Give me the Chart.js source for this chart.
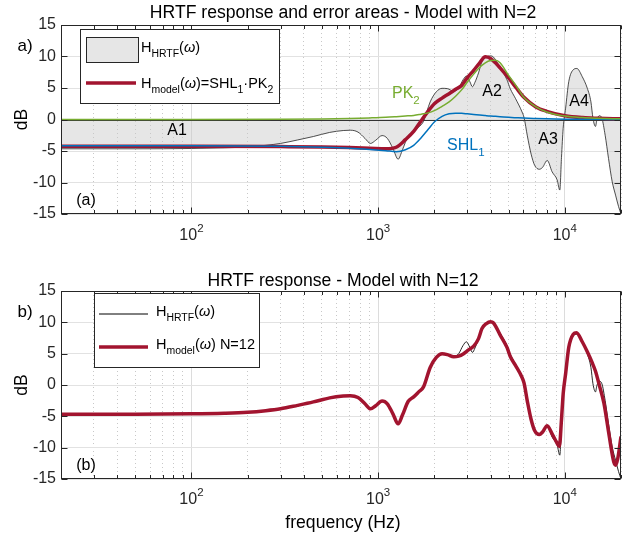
<!DOCTYPE html>
<html>
<head>
<meta charset="utf-8">
<script src="https://cdn.jsdelivr.net/npm/chart.js@4"></script>
<style>
  html, body { margin: 0; padding: 0; background: #fff; }
  #wrap { position: relative; width: 631px; height: 533px; }
  #wrap canvas { position: absolute; left: 0; top: 0; }
</style>
</head>
<body>
<div id="wrap">
  <canvas id="top" width="631" height="533"></canvas>
  <canvas id="bottom" width="631" height="533"></canvas>
</div>
<script>
const hrtfFreq = [20, 50, 100, 150, 200, 250, 300, 370, 450, 550, 650, 710, 780, 850, 910, 970, 1050, 1120, 1200, 1280, 1350, 1450, 1550, 1650, 1750, 1900, 2050, 2200, 2350, 2540, 2700, 2850, 2970, 3100, 3200, 3300, 3450, 3600, 3800, 4000, 4150, 4450, 4900, 5100, 5450, 5900, 6050, 6300, 6600, 6900, 7300, 7600, 8050, 8550, 9100, 9400, 9600, 9800, 10100, 10500, 11100, 11600, 12400, 13200, 13800, 14150, 14600, 14850, 15300, 15800, 16450, 17150, 17950, 18700, 19400, 20000];
const hrtfDb = [-4.65, -4.65, -4.6, -4.5, -4.35, -4.1, -3.8, -3.25, -2.7, -2.05, -1.75, -1.7, -2.0, -3.0, -3.8, -3.3, -2.55, -3.0, -4.6, -6.3, -4.8, -2.6, -1.9, -1.2, -0.3, 2.8, 4.4, 4.95, 4.9, 4.5, 5.0, 6.3, 6.9, 6.0, 5.2, 5.9, 7.4, 9.2, 9.9, 10.1, 9.9, 8.5, 6.3, 4.9, 3.3, 1.2, 0.3, -2.6, -5.5, -7.3, -7.9, -7.6, -6.5, -8.3, -9.6, -11.2, -6.0, -1.4, 1.8, 6.0, 7.9, 8.1, 6.8, 4.95, 2.8, 0.2, -1.1, -0.1, 0.6, 0.2, -2.5, -6.2, -9.9, -12.0, -13.8, -15];

// N=2 model and its two sections
const modelFreq = [20, 100, 300, 500, 700, 900, 1100, 1250, 1400, 1550, 1700, 1850, 2000, 2200, 2400, 2600, 2800, 3000, 3250, 3500, 3750, 4000, 4250, 4500, 5000, 5500, 6000, 7000, 8000, 10000, 12500, 15000, 20000];
const model2Db = [-4.25, -4.25, -4.3, -4.35, -4.45, -4.55, -4.65, -4.4, -3.2, -1.9, -0.2, 1.3, 2.5, 3.4, 4.1, 4.8, 5.4, 6.6, 7.8, 9.0, 9.95, 9.7, 9.0, 8.2, 6.6, 5.0, 3.6, 2.0, 1.3, 0.6, 0.3, 0.2, 0.1];
const shl1Db = [-4.15, -4.15, -4.25, -4.4, -4.55, -4.75, -4.95, -5.1, -4.8, -4.1, -2.9, -1.6, -0.4, 0.5, 0.9, 1.0, 0.98, 0.9, 0.8, 0.7, 0.62, 0.55, 0.5, 0.45, 0.35, 0.28, 0.22, 0.15, 0.1, 0.05, 0.03, 0.02, 0.01];
const pk2Db = [0, 0, 0.02, 0.08, 0.15, 0.25, 0.35, 0.45, 0.55, 0.65, 0.85, 1.05, 1.4, 2.1, 2.8, 3.7, 4.7, 5.9, 7.2, 8.3, 9.0, 9.35, 9.4, 9.0, 7.0, 5.3, 3.6, 2.0, 1.2, 0.55, 0.3, 0.2, 0.1];

// N=12 model
const model12Freq = [20, 50, 100, 150, 200, 250, 300, 370, 450, 550, 650, 710, 780, 850, 910, 970, 1050, 1120, 1200, 1280, 1350, 1450, 1550, 1650, 1750, 1900, 2050, 2200, 2350, 2540, 2700, 2870, 3050, 3250, 3450, 3600, 3800, 4000, 4150, 4500, 4900, 5110, 5450, 5900, 6050, 6300, 6600, 6900, 7300, 7600, 8050, 8550, 9100, 9350, 9600, 9800, 10100, 10500, 11100, 11550, 12400, 13200, 14000, 14600, 15300, 16200, 17100, 17900, 18300, 18700, 19200, 20000];
const model12Db = [-4.65, -4.65, -4.6, -4.5, -4.35, -4.1, -3.8, -3.25, -2.7, -2.05, -1.75, -1.7, -2.0, -3.0, -3.8, -3.3, -2.55, -3.0, -4.6, -6.2, -4.8, -2.6, -1.9, -1.1, -0.3, 2.8, 4.4, 5.0, 4.85, 4.5, 4.6, 5.0, 5.6, 6.2, 7.4, 9.0, 9.8, 10.1, 9.9, 8.0, 6.0, 4.5, 3.1, 1.2, 0.3, -2.6, -5.5, -7.3, -7.9, -7.5, -6.5, -7.8, -9.3, -9.8, -5.5, -1.4, 1.8, 6.0, 8.1, 8.35, 6.9, 5.3, 3.6, 2.2, 0.0, -2.9, -7.2, -10.9, -12.3, -12.8, -11.8, -8.2];

// axes
const xGridTicks = [20, 30, 40, 50, 60, 70, 80, 90, 100, 200, 300, 400, 500, 600, 700, 800, 900, 1000, 2000, 3000, 4000, 5000, 6000, 7000, 8000, 9000, 10000, 20000];
const xLabelTicks = [100, 1000, 10000];
const xLabelExp = ['2', '3', '4'];
const yTicks = [-15, -10, -5, 0, 5, 10, 15];

const FONT = "'Liberation Sans', Arial, Helvetica, sans-serif";
const AX = '#262626';
const RED = '#A2142F', BLUE = '#0072BD', GREEN = '#77AC30';

const pts = (f, v) => f.map((x, i) => ({ x: x, y: v[i] }));

const panels = {
  top: {
    title: 'HRTF response and error areas - Model with N=2', titleY: 13,
    tag: 'a)', tagY: 46, panel: '(a)', panelY: 201, tickY: 236, baseline: true,
    notes: [
      { parts: [['A1', '']], x: 177, y: 131, color: '#000', align: 'center' },
      { parts: [['PK', ''], ['2', 'sub']], x: 392, y: 94, color: GREEN, align: 'left' },
      { parts: [['A2', '']], x: 492, y: 92, color: '#000', align: 'center' },
      { parts: [['SHL', ''], ['1', 'sub']], x: 447, y: 146, color: BLUE, align: 'left' },
      { parts: [['A3', '']], x: 548, y: 140, color: '#000', align: 'center' },
      { parts: [['A4', '']], x: 579, y: 102, color: '#000', align: 'center' }
    ]
  },
  bottom: {
    title: 'HRTF response - Model with N=12', titleY: 281,
    tag: 'b)', tagY: 312, panel: '(b)', panelY: 466, tickY: 500, xlabel: 'frequency (Hz)', xlabelY: 523,
    notes: []
  }
};

function rich(ctx, parts, x, y, size, align) {
  const fontOf = k => (k === 'it' ? 'italic ' : '') + ((k === 'sub' || k === 'sup') ? size * 0.72 : size) + 'px ' + FONT;
  let w = 0;
  parts.forEach(p => { ctx.font = fontOf(p[1]); w += ctx.measureText(p[0]).width; });
  let cx = align === 'center' ? x - w / 2 : (align === 'right' ? x - w : x);
  ctx.textAlign = 'left';
  ctx.textBaseline = 'middle';
  parts.forEach(p => {
    ctx.font = fontOf(p[1]);
    const dy = p[1] === 'sub' ? size * 0.4 : (p[1] === 'sup' ? -size * 0.42 : 0);
    ctx.fillText(p[0], cx, y + dy);
    cx += ctx.measureText(p[0]).width;
  });
}

function drawLegend(ctx, id) {
  ctx.save();
  ctx.fillStyle = '#fff';
  ctx.strokeStyle = AX;
  ctx.lineWidth = 1;
  ctx.fillStyle = '#000';
  if (id === 'top') {
    ctx.fillStyle = '#fff';
    ctx.fillRect(80, 29, 199, 74);
    ctx.strokeRect(80.5, 29.5, 199, 74);
    ctx.fillStyle = '#e6e6e6';
    ctx.fillRect(86, 37, 52, 25);
    ctx.strokeRect(86.5, 37.5, 52, 25);
    ctx.strokeStyle = RED; ctx.lineWidth = 3.5;
    ctx.beginPath(); ctx.moveTo(86, 83); ctx.lineTo(136, 83); ctx.stroke();
    ctx.fillStyle = '#000';
    rich(ctx, [['H', ''], ['HRTF', 'sub'], ['(', ''], ['ω', 'it'], [')', '']], 141, 48, 14.5, 'left');
    rich(ctx, [['H', ''], ['model', 'sub'], ['(', ''], ['ω', 'it'], [')=SHL', ''], ['1', 'sub'], ['·PK', ''], ['2', 'sub']], 141, 84, 14.5, 'left');
  } else {
    ctx.fillStyle = '#fff';
    ctx.fillRect(94, 293, 165, 74);
    ctx.strokeRect(94.5, 293.5, 165, 74);
    ctx.strokeStyle = '#000'; ctx.lineWidth = 1;
    ctx.beginPath(); ctx.moveTo(99, 314); ctx.lineTo(148, 314); ctx.stroke();
    ctx.strokeStyle = RED; ctx.lineWidth = 3.5;
    ctx.beginPath(); ctx.moveTo(99, 347); ctx.lineTo(148, 347); ctx.stroke();
    ctx.fillStyle = '#000';
    rich(ctx, [['H', ''], ['HRTF', 'sub'], ['(', ''], ['ω', 'it'], [')', '']], 156, 312, 14.5, 'left');
    rich(ctx, [['H', ''], ['model', 'sub'], ['(', ''], ['ω', 'it'], [') N=12', '']], 156, 345, 14.5, 'left');
  }
  ctx.restore();
}

const decor = {
  id: 'decor',
  afterDatasetDraw(chart, args) {
    const p = panels[chart.canvas.id];
    if (!p.baseline || args.index !== 0) return;
    const ctx = chart.ctx, a = chart.chartArea;
    const y0 = Math.round(chart.scales.y.getPixelForValue(0)) + 0.5;
    ctx.save();
    ctx.strokeStyle = '#333';
    ctx.lineWidth = 1;
    ctx.beginPath(); ctx.moveTo(a.left, y0); ctx.lineTo(a.right, y0); ctx.stroke();
    ctx.restore();
  },
  afterDatasetsDraw(chart) {
    const ctx = chart.ctx, a = chart.chartArea;
    const xs = chart.scales.x, ys = chart.scales.y;
    ctx.save();
    ctx.strokeStyle = AX;
    ctx.lineWidth = 1;
    const L = Math.round(a.left) + 0.5, R = Math.round(a.right) - 0.5;
    const T = Math.round(a.top) + 0.5, B = Math.round(a.bottom) - 0.5;
    ctx.strokeRect(L, T, R - L, B - T);
    ctx.beginPath();
    xGridTicks.forEach(v => {
      const px = Math.round(xs.getPixelForValue(v)) + 0.5;
      const len = xLabelTicks.includes(v) ? 6 : 3.5;
      ctx.moveTo(px, B); ctx.lineTo(px, B - len);
      ctx.moveTo(px, T); ctx.lineTo(px, T + len);
    });
    yTicks.forEach(v => {
      const py = Math.round(ys.getPixelForValue(v)) + 0.5;
      ctx.moveTo(L, py); ctx.lineTo(L + 6, py);
      ctx.moveTo(R, py); ctx.lineTo(R - 6, py);
    });
    ctx.stroke();
    ctx.restore();
  },
  afterDraw(chart) {
    const id = chart.canvas.id, p = panels[id];
    const ctx = chart.ctx, a = chart.chartArea;
    const xs = chart.scales.x, ys = chart.scales.y;
    ctx.save();
    ctx.fillStyle = AX;
    ctx.font = '16px ' + FONT;
    ctx.textAlign = 'right';
    ctx.textBaseline = 'middle';
    yTicks.forEach(v => ctx.fillText(String(v), a.left - 5, ys.getPixelForValue(v)));
    xLabelTicks.forEach((v, i) => rich(ctx, [['10', ''], [xLabelExp[i], 'sup']], xs.getPixelForValue(v), p.tickY, 16, 'center'));
    ctx.fillStyle = '#000';
    ctx.font = '17.6px ' + FONT;
    ctx.textAlign = 'center';
    ctx.fillText(p.title, 343, p.titleY);
    if (p.xlabel) ctx.fillText(p.xlabel, 343, p.xlabelY);
    ctx.save();
    ctx.translate(22, (a.top + a.bottom) / 2);
    ctx.rotate(-Math.PI / 2);
    ctx.fillText('dB', 0, 0);
    ctx.restore();
    ctx.font = '17px ' + FONT;
    ctx.fillText(p.tag, 25, p.tagY);
    ctx.font = '16px ' + FONT;
    ctx.fillText(p.panel, 86, p.panelY);
    p.notes.forEach(n => { ctx.fillStyle = n.color; rich(ctx, n.parts, n.x, n.y, 16, n.align); });
    drawLegend(ctx, id);
    ctx.restore();
  }
};

function makeOptions(padTop, padBottom) {
  return {
    responsive: false,
    animation: false,
    devicePixelRatio: 1,
    events: [],
    layout: { padding: { left: 61, right: 10, top: padTop, bottom: padBottom } },
    elements: { point: { radius: 0 }, line: { cubicInterpolationMode: 'monotone' } },
    plugins: { legend: { display: false }, tooltip: { enabled: false }, title: { display: false } },
    scales: {
      x: {
        type: 'logarithmic', min: 20, max: 20000,
        afterBuildTicks: s => { s.ticks = xGridTicks.map(v => ({ value: v, major: xLabelTicks.includes(v) })); },
        afterFit: s => { s.height = 0; },
        ticks: { display: false },
        grid: {
          drawTicks: false, lineWidth: 1,
          color: c => (c.tick && xLabelTicks.includes(c.tick.value)) ? '#dcdcdc' : '#c8c8c8'
        },
        border: { display: false, dash: c => (c.tick && !xLabelTicks.includes(c.tick.value)) ? [1, 3] : [] }
      },
      y: {
        type: 'linear', min: -15, max: 15,
        afterBuildTicks: s => { s.ticks = yTicks.map(v => ({ value: v })); },
        afterFit: s => { s.width = 0; },
        ticks: { display: false },
        grid: { drawTicks: false, lineWidth: 1, color: '#e2e2e2' },
        border: { display: false }
      }
    }
  };
}

new Chart(document.getElementById('top'), {
  type: 'line',
  data: {
    datasets: [
      { data: pts(hrtfFreq, hrtfDb), borderColor: '#222', borderWidth: 0.8, fill: 'origin', backgroundColor: 'rgba(200,200,200,0.45)', order: 4 },
      { data: pts(modelFreq, model2Db), borderColor: RED, borderWidth: 3.5, fill: false, order: 3 },
      { data: pts(modelFreq, shl1Db), borderColor: BLUE, borderWidth: 1.5, fill: false, order: 2 },
      { data: pts(modelFreq, pk2Db), borderColor: GREEN, borderWidth: 1.5, fill: false, order: 1 }
    ]
  },
  options: makeOptions(25, 533 - 214),
  plugins: [decor]
});

new Chart(document.getElementById('bottom'), {
  type: 'line',
  data: {
    datasets: [
      { data: pts(hrtfFreq, hrtfDb), borderColor: '#111', borderWidth: 0.9, fill: false, order: 2 },
      { data: pts(model12Freq, model12Db), borderColor: RED, borderWidth: 3.5, fill: false, order: 1 }
    ]
  },
  options: makeOptions(291, 533 - 479),
  plugins: [decor]
});
</script>
</body>
</html>
